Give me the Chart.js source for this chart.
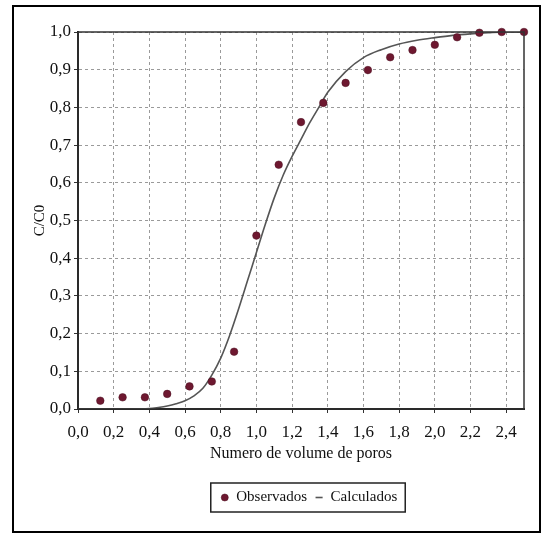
<!DOCTYPE html>
<html>
<head>
<meta charset="utf-8">
<script src="https://cdn.jsdelivr.net/npm/chart.js@4.4.1/dist/chart.umd.min.js"></script>
<style>
  html, body { margin: 0; padding: 0; background: #fff; }
</style>
</head>
<body>
<canvas id="chart" width="543" height="535"></canvas>
<script>
// Observed breakthrough points
const obsX = [0.125, 0.25, 0.375, 0.5, 0.625, 0.75, 0.875, 1.0, 1.125, 1.25,
  1.375, 1.5, 1.625, 1.75, 1.875, 2.0, 2.125, 2.25, 2.375, 2.5];
const obsY = [0.022, 0.031, 0.031, 0.04, 0.06, 0.073, 0.152, 0.46, 0.648, 0.761,
  0.812, 0.865, 0.899, 0.933, 0.952, 0.966, 0.986, 0.998, 1.0, 1.0];

// Calculated curve
const calcX = [0, 0.1, 0.2, 0.3, 0.4, 0.45, 0.5, 0.55, 0.6, 0.65, 0.7, 0.75, 0.8, 0.85,
  0.9, 0.95, 1.0, 1.05, 1.1, 1.15, 1.2, 1.25, 1.3, 1.35, 1.4, 1.5, 1.6, 1.7, 1.8,
  1.9, 2.0, 2.1, 2.2, 2.3, 2.4, 2.5];
const calcY = [0, 0, 0, 0, 0.001, 0.004, 0.008, 0.014, 0.022, 0.035, 0.055, 0.09, 0.135, 0.195,
  0.265, 0.34, 0.415, 0.49, 0.56, 0.62, 0.67, 0.715, 0.76, 0.8, 0.84, 0.895, 0.932, 0.953, 0.968,
  0.978, 0.985, 0.991, 0.995, 0.998, 1.0, 1.0];

const xTicks = [0, 0.2, 0.4, 0.6, 0.8, 1.0, 1.2, 1.4, 1.6, 1.8, 2.0, 2.2, 2.4];
const yTicks = [0, 0.1, 0.2, 0.3, 0.4, 0.5, 0.6, 0.7, 0.8, 0.9, 1.0];

const fmt = (v) => v.toFixed(1).replace('.', ',');
const serif = "'Liberation Serif', 'Times New Roman', serif";

// frame around the whole figure, plot box and legend box
const frames = {
  id: 'frames',
  afterLayout(chart) {
    // legend sits a little right of the plot centre in the original
    chart.legend.left += 8;
    chart.legend.right += 8;
  },
  afterDraw(chart) {
    const { ctx, chartArea: a } = chart;
    ctx.save();
    ctx.strokeStyle = '#000';
    ctx.lineWidth = 2;
    ctx.strokeRect(13, 6, 527, 526);
    ctx.strokeStyle = '#333';
    ctx.lineWidth = 1.5;
    ctx.strokeRect(a.left, a.top, a.right - a.left, a.bottom - a.top);
    const boxes = chart.legend.legendHitBoxes;
    if (boxes.length) {
      const l = Math.min(...boxes.map((b) => b.left)) - 10;
      const r = Math.max(...boxes.map((b) => b.left + b.width)) + 8;
      const t = Math.min(...boxes.map((b) => b.top)) - 7;
      const btm = Math.max(...boxes.map((b) => b.top + b.height)) + 7;
      ctx.strokeStyle = '#222';
      ctx.lineWidth = 1.5;
      ctx.strokeRect(l, t, r - l, btm - t);
    }
    ctx.restore();
  },
};

new Chart(document.getElementById('chart'), {
  type: 'scatter',
  data: {
    datasets: [
      {
        label: 'Observados',
        data: obsX.map((x, i) => ({ x, y: obsY[i] })),
        backgroundColor: '#6e1830',
        borderColor: '#4a1020',
        borderWidth: 0.5,
        pointRadius: 3.8,
        pointStyle: 'circle',
        clip: 6,
        order: 0,
      },
      {
        label: 'Calculados',
        type: 'line',
        data: calcX.map((x, i) => ({ x, y: calcY[i] })),
        borderColor: '#555',
        backgroundColor: '#555',
        borderWidth: 1.6,
        pointRadius: 0,
        pointStyle: 'line',
        cubicInterpolationMode: 'monotone',
        fill: false,
        order: 1,
      },
    ],
  },
  options: {
    responsive: false,
    animation: false,
    devicePixelRatio: 1,
    layout: { padding: { left: 20, right: 19, top: 32, bottom: 20 } },
    plugins: {
      legend: {
        position: 'bottom',
        fullSize: false,
        labels: {
          usePointStyle: true,
          boxWidth: 8,
          boxHeight: 5,
          padding: 8,
          color: '#111',
          font: { family: serif, size: 15 },
        },
      },
      tooltip: { enabled: false },
    },
    scales: {
      x: {
        type: 'linear',
        min: 0,
        max: 2.5,
        afterBuildTicks: (s) => { s.ticks = xTicks.map((v) => ({ value: v })); },
        afterFit: (s) => { s.height = 73; },
        ticks: {
          callback: (v) => fmt(v),
          color: '#111',
          padding: 9,
          maxRotation: 0,
          autoSkip: false,
          font: { family: serif, size: 17 },
        },
        grid: { color: '#9a9a9a', lineWidth: 1, tickLength: 4, tickColor: '#333' },
        border: { display: true, color: '#111', width: 2, dash: [3, 3] },
        title: {
          display: true,
          text: 'Numero de volume de poros',
          color: '#111',
          padding: { top: 0, bottom: 19 },
          font: { family: serif, size: 16 },
        },
      },
      y: {
        min: 0,
        max: 1,
        afterBuildTicks: (s) => { s.ticks = yTicks.map((v) => ({ value: v })); },
        afterFit: (s) => { s.width = 58; },
        ticks: {
          callback: (v) => fmt(v),
          color: '#111',
          padding: 3,
          font: { family: serif, size: 17 },
        },
        grid: { color: '#9a9a9a', lineWidth: 1, tickLength: 4, tickColor: '#333' },
        border: { display: true, color: '#111', width: 2, dash: [3, 3] },
        title: {
          display: true,
          text: 'C/C0',
          color: '#111',
          padding: { top: 11, bottom: 0 },
          font: { family: serif, size: 15 },
        },
      },
    },
  },
  plugins: [frames],
});
</script>
</body>
</html>
